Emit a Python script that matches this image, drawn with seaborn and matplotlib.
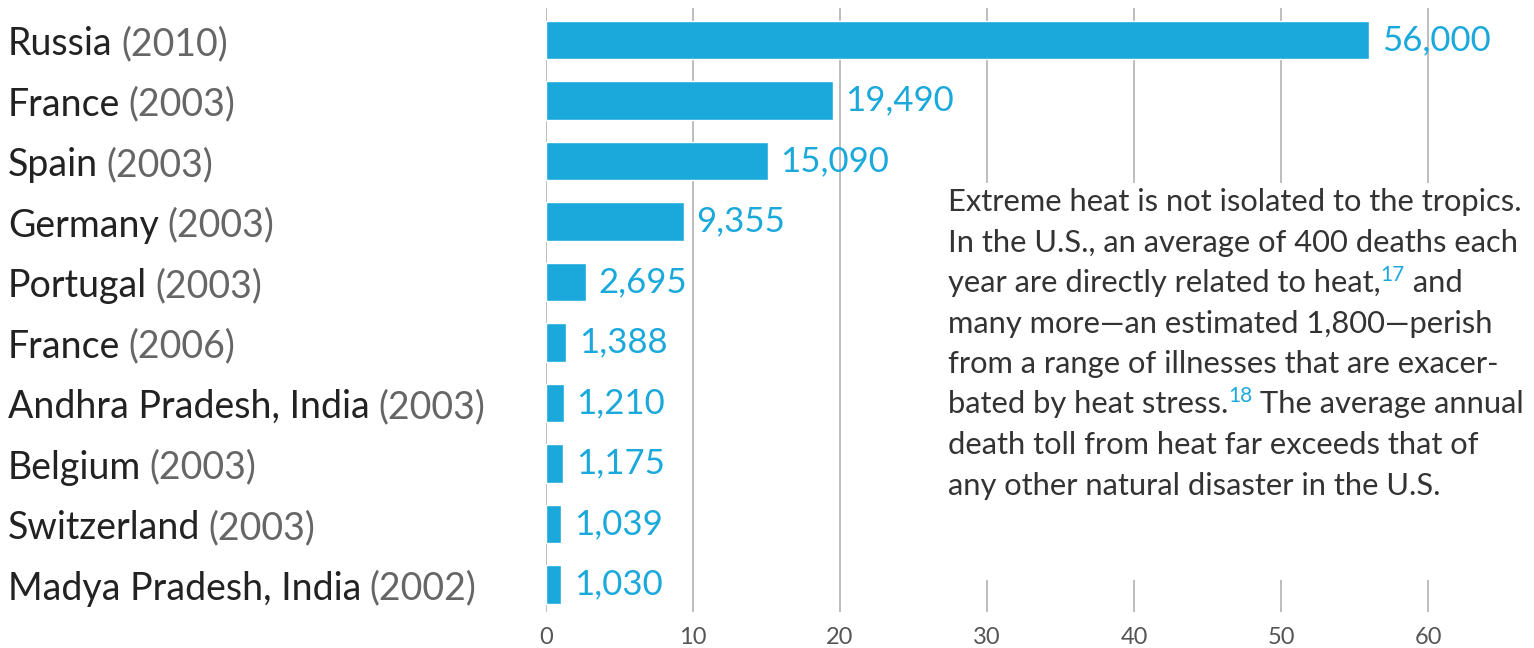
import matplotlib
matplotlib.use("Agg")
import matplotlib.pyplot as plt
import matplotlib.transforms as mtrans
from matplotlib.patches import Rectangle
import seaborn as sns
import pandas as pd

# ---- data ----
countries = ["Russia", "France", "Spain", "Germany", "Portugal", "France",
             "Andhra Pradesh, India", "Belgium", "Switzerland", "Madya Pradesh, India"]
years = ["2010", "2003", "2003", "2003", "2003", "2006", "2003", "2003", "2003", "2002"]
deaths = [56000, 19490, 15090, 9355, 2695, 1388, 1210, 1175, 1039, 1030]
x_ticks = [0, 10, 20, 30, 40, 50, 60]
note_lines = [
    "Extreme heat is not isolated to the tropics.",
    "In the U.S., an average of 400 deaths each",
    "year are directly related to heat,^17^ and",
    "many more\u2014an estimated 1,800\u2014perish",
    "from a range of illnesses that are exacer-",
    "bated by heat stress.^18^ The average annual",
    "death toll from heat far exceeds that of",
    "any other natural disaster in the U.S.",
]

BLUE = "#1BA9DB"
W, H = 1534, 648

sns.set_theme(style="white")
plt.rcParams["font.family"] = ["Lato", "DejaVu Sans"]

df = pd.DataFrame({
    "label": [f"{c} ({y})" for c, y in zip(countries, years)],
    "thousands": [d / 1000 for d in deaths],
})

fig = plt.figure(figsize=(W / 100, H / 100), dpi=100)
ax = fig.add_axes([546 / W, 1 - 612 / H, (W - 546) / W, (612 - 8) / H])

sns.barplot(data=df, y="label", x="thousands", order=df["label"], orient="h",
            color=BLUE, saturation=1, width=0.64, ax=ax, zorder=2)

ax.set_xlim(0, (W - 546) / 14.7)
ax.set_ylim(9.455, -0.529)
ax.set_xticks(x_ticks)
ax.set_xticklabels([str(t) for t in x_ticks])
ax.set_yticks([])
ax.set_xlabel("")
ax.set_ylabel("")
ax.xaxis.grid(True, color="#bdbdbd", lw=1.4)
ax.set_axisbelow(True)
for s in ax.spines.values():
    s.set_visible(False)
ax.tick_params(axis="x", length=0, pad=11, labelsize=17, labelcolor="#555555")

# white box behind the note (interrupts the gridlines)
ax.add_patch(Rectangle((900 / W, 1 - 580 / H), (W - 900) / W, (580 - 183) / H,
                       transform=fig.transFigure, facecolor="white",
                       edgecolor="none", zorder=1, clip_on=False))

# category labels (name dark, year grey)
blend = mtrans.blended_transform_factory(fig.transFigure, ax.transData)
for i, (c, y) in enumerate(zip(countries, years)):
    t = ax.text(8 / W, i + 0.07, c, transform=blend, ha="left", va="center",
                fontsize=27, color="#222222")
    ax.annotate(f"({y})", xy=(1, 0), xycoords=t, xytext=(6, 0),
                textcoords="offset points", ha="left", va="bottom",
                fontsize=27, color="#666666", annotation_clip=False)

# value labels
for i, d in enumerate(deaths):
    ax.annotate(f"{d:,}", xy=(d / 1000, i), xytext=(9, 0),
                textcoords="offset points", ha="left", va="center",
                fontsize=25, color=BLUE, annotation_clip=False)

# note paragraph
y0, dy = 202, 40.5
for k, line in enumerate(note_lines):
    yc = 1 - (y0 + k * dy) / H
    parts = line.split("^")
    t = fig.text(948 / W, yc, parts[0], ha="left", va="center",
                 fontsize=22.2, color="#333333")
    if len(parts) == 3:
        sup = ax.annotate(parts[1], xy=(1, 1), xycoords=t, xytext=(0, 3),
                          textcoords="offset points", ha="left", va="top",
                          fontsize=15, color=BLUE, annotation_clip=False)
        ax.annotate(parts[2], xy=(1, 0), xycoords=(sup, t), xytext=(0, 0),
                    textcoords="offset points", ha="left", va="bottom",
                    fontsize=22.2, color="#333333", annotation_clip=False)

fig.savefig("out.png", dpi=100, facecolor="white")
